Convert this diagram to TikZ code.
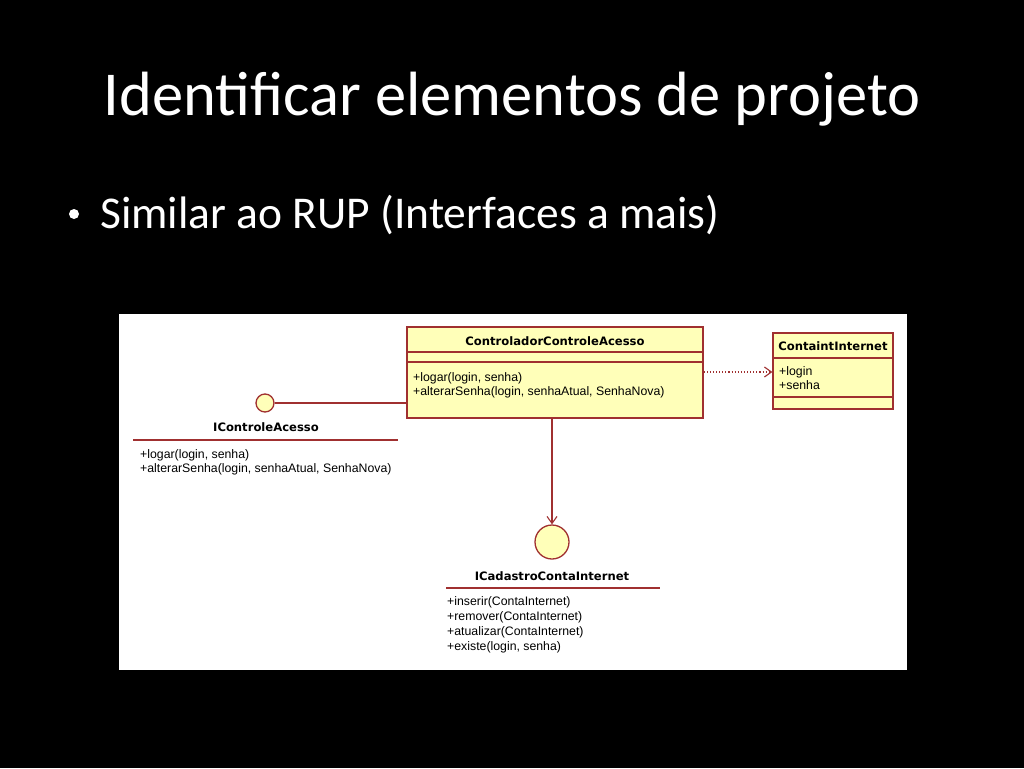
\documentclass[tikz,border=0pt]{standalone}
\usepackage{fontspec}
\setmainfont{Carlito}
\newfontfamily\umlname{DejaVu Sans}
\newfontfamily\umlop{Liberation Sans}
\usetikzlibrary{arrows.meta}
\definecolor{umlborder}{RGB}{160,48,48}
\definecolor{umlfill}{RGB}{255,255,185}
\tikzset{
  classbox/.style={draw=umlborder,fill=umlfill,line width=1.3pt,rectangle,inner sep=0pt},
  iface/.style={draw=umlborder,fill=umlfill,line width=1.3pt,circle,inner sep=0pt},
  cname/.style={font=\umlname\bfseries\fontsize{11.6}{13}\selectfont,inner sep=0pt},
  oplist/.style={font=\umlop\fontsize{12.3}{14.3}\selectfont,align=left,anchor=north west,inner sep=0pt},
  link/.style={umlborder,line width=1.1pt}
}
\begin{document}
\begin{tikzpicture}[x=1pt,y=-1pt]
  \fill[black] (0,0) rectangle (1024,768);
  \useasboundingbox (0,0) rectangle (1024,768);
  % slide texts
  \node[white,font=\fontsize{62.5}{70}\selectfont,anchor=base] (title) at (512,115) {Identificar elementos de projeto};
  \node[white,font=\fontsize{45.5}{52}\selectfont,anchor=base west,inner sep=0pt] (bullet) at (100,228) {Similar ao RUP (Interfaces a mais)};
  \fill[white] (74,214) circle (5);
  % diagram area
  \fill[white] (119,314) rectangle (907,670);
  % controller class
  \node[classbox,minimum width=296pt,minimum height=91pt] (ctrl) at (555,372.5) {};
  \draw[umlborder,line width=1.3pt] (407,352) -- (703,352) (407,362) -- (703,362);
  \node[cname] (ctrlname) at (555,341) {ControladorControleAcesso};
  \node[oplist] (ctrlops) at (413,372) {+logar(login, senha)\\+alterarSenha(login, senhaAtual, SenhaNova)};
  % entity class
  \node[classbox,minimum width=120pt,minimum height=76pt] (conta) at (833,371) {};
  \draw[umlborder,line width=1.3pt] (773,358) -- (893,358) (773,397) -- (893,397);
  \node[cname] (contaname) at (833,346) {ContaintInternet};
  \node[oplist] (contaattr) at (779,366) {+login\\+senha};
  % interface IControleAcesso
  \node[iface,minimum size=18pt] (ica) at (265,403) {};
  \node[cname] (icaname) at (266,427) {IControleAcesso};
  \draw[umlborder,line width=1.2pt] (133,440) -- (398,440);
  \node[oplist] (icaops) at (140,449) {+logar(login, senha)\\+alterarSenha(login, senhaAtual, SenhaNova)};
  % interface ICadastroContaInternet
  \node[iface,minimum size=34pt] (icci) at (552,542) {};
  \node[cname] (icciname) at (552,576) {ICadastroContaInternet};
  \draw[umlborder,line width=1.2pt] (446,588) -- (660,588);
  \node[oplist,font=\umlop\fontsize{12.3}{15}\selectfont] (icciops) at (447,596) {+inserir(ContaInternet)\\+remover(ContaInternet)\\+atualizar(ContaInternet)\\+existe(login, senha)};
  % connectors
  \draw[link] (ica.east) -- (ica.east -| ctrl.west);
  \draw[link,dotted,-{Straight Barb[length=7pt,width=10pt]}] (ctrl.east |- 0,372) -- (conta.west |- 0,372);
  \draw[link,-{Straight Barb[length=7pt,width=10pt]}] (ctrl.south -| icci.north) -- (icci.north);
\end{tikzpicture}
\end{document}
